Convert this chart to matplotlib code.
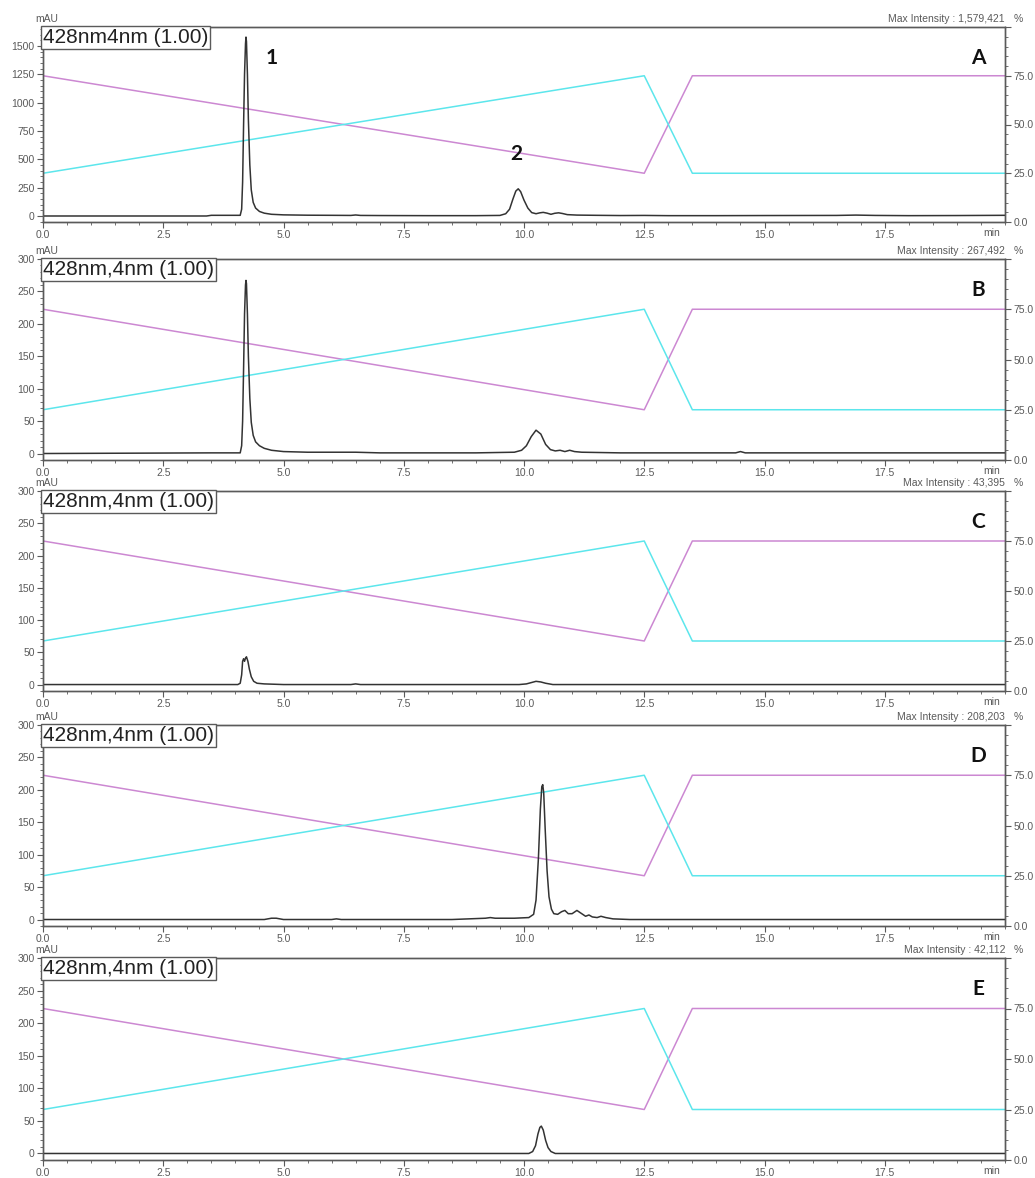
import matplotlib
matplotlib.use("Agg")
import matplotlib.pyplot as plt
from matplotlib.ticker import MultipleLocator, AutoMinorLocator, FormatStrFormatter

plt.rcParams['font.family'] = ['Liberation Sans', 'DejaVu Sans']

# ---------------- data ----------------
panel_letters = ["A", "B", "C", "D", "E"]
channel_labels = ["428nm4nm (1.00)", "428nm,4nm (1.00)", "428nm,4nm (1.00)",
                  "428nm,4nm (1.00)", "428nm,4nm (1.00)"]
max_intensity = ["1,579,421", "267,492", "43,395", "208,203", "42,112"]
y_limits = [(-53, 1668), (-10, 300), (-10, 300), (-10, 300), (-10, 300)]
y_major = [250, 50, 50, 50, 50]

# gradient program (%)
grad_t = [0.0, 12.5, 13.5, 20.0]
pump_B = [25.0, 75.0, 25.0, 25.0]   # cyan
pump_A = [75.0, 25.0, 75.0, 75.0]   # magenta

# chromatograms (time min, mAU)
trace_A_t = [0.0, 3.40, 3.50, 4.10, 4.13, 4.15, 4.17, 4.19, 4.21, 4.22, 4.23, 4.25, 4.27,
             4.30, 4.33, 4.37, 4.42, 4.50, 4.60, 4.75, 5.00, 5.50, 6.00, 6.40, 6.50, 6.60,
             7.00, 8.00, 9.00, 9.50, 9.62, 9.70, 9.77, 9.83, 9.88, 9.93, 10.00, 10.08,
             10.16, 10.25, 10.33, 10.40, 10.48, 10.56, 10.64, 10.72, 10.80, 10.90, 11.10,
             11.50, 12.00, 12.50, 13.00, 14.00, 15.00, 16.50, 16.90, 17.30, 18.00, 19.00, 20.0]
trace_A_y = [0, 0, 6, 6, 60, 300, 800, 1250, 1520, 1579, 1540, 1250, 850,
             450, 230, 120, 70, 40, 25, 15, 10, 7, 6, 5, 9, 5,
             4, 3, 3, 5, 20, 60, 150, 220, 240, 215, 140, 70,
             30, 20, 28, 32, 25, 15, 24, 28, 22, 12, 8,
             6, 4, 5, 3, 3, 4, 5, 8, 5, 3, 4, 6]

trace_B_t = [0.0, 3.50, 4.10, 4.13, 4.15, 4.17, 4.19, 4.21, 4.22, 4.23, 4.25, 4.27,
             4.30, 4.33, 4.37, 4.42, 4.50, 4.60, 4.75, 5.00, 5.50, 6.00, 6.50, 7.0,
             9.00, 9.80, 9.95, 10.05, 10.15, 10.25, 10.35, 10.45, 10.55, 10.65, 10.75,
             10.85, 10.95, 11.05, 11.20, 12.00, 13.00, 14.40, 14.50, 14.60, 16.0, 20.0]
trace_B_y = [0, 1, 1, 12, 50, 130, 215, 260, 267, 262, 215, 150,
             85, 48, 28, 18, 12, 8, 5, 3, 2, 2, 2, 1,
             1, 2, 5, 12, 26, 36, 30, 14, 6, 4, 5,
             3, 5, 3, 2, 1, 1, 1, 3, 1, 1, 1]

trace_C_t = [0.0, 4.05, 4.10, 4.13, 4.15, 4.17, 4.19, 4.21, 4.23, 4.26, 4.29,
             4.33, 4.38, 4.45, 4.60, 5.00, 6.40, 6.50, 6.60, 9.90, 10.05, 10.15,
             10.25, 10.35, 10.45, 10.60, 12.0, 20.0]
trace_C_y = [0, 0, 2, 15, 36, 40, 36, 41, 43, 36, 24,
             12, 5, 2, 1, 0, 0, 1, 0, 0, 1, 3,
             5, 4, 2, 0, 0, 0]

trace_D_t = [0.0, 4.60, 4.75, 4.85, 5.00, 6.00, 6.10, 6.20, 8.50, 9.20, 9.30, 9.40,
             9.80, 10.10, 10.20, 10.25, 10.30, 10.34, 10.37, 10.39, 10.41, 10.44,
             10.48, 10.52, 10.57, 10.62, 10.70, 10.78, 10.85, 10.92, 11.00, 11.10,
             11.20, 11.28, 11.35, 11.42, 11.52, 11.60, 11.70, 11.85, 12.20, 13.0, 20.0]
trace_D_y = [0, 0, 2, 2, 0, 0, 1, 0, 0, 2, 3, 2,
             2, 3, 8, 30, 95, 170, 205, 208, 195, 140,
             75, 35, 16, 9, 8, 12, 14, 9, 9, 14,
             9, 5, 7, 4, 3, 5, 3, 1, 0, 0, 0]

trace_E_t = [0.0, 10.10, 10.18, 10.24, 10.29, 10.33, 10.36, 10.40, 10.45, 10.50,
             10.56, 10.65, 11.0, 20.0]
trace_E_y = [0, 0, 3, 12, 30, 40, 42, 36, 20, 9,
             3, 0, 0, 0]

traces = [(trace_A_t, trace_A_y), (trace_B_t, trace_B_y), (trace_C_t, trace_C_y),
          (trace_D_t, trace_D_y), (trace_E_t, trace_E_y)]

peak_labels = ["1", "2"]
peak_label_t = [4.75, 9.83]
peak_label_y = [1390, 550]

# ---------------- layout ----------------
W, H = 1035, 1178
fig = plt.figure(figsize=(W / 100, H / 100), dpi=100)
fig.patch.set_facecolor("white")

left_px, right_px = 43, 1005
panel_px = [(27, 222), (259, 460), (491, 691), (725, 926), (958, 1160)]

gray = "#5a5a5a"
cyan = "#5ce6ec"
magenta = "#cc88d2"
tick_fs = 7.5

for i, (top, bot) in enumerate(panel_px):
    ax = fig.add_axes([left_px / W, 1 - bot / H, (right_px - left_px) / W, (bot - top) / H])
    ax2 = ax.twinx()
    ax.set_zorder(ax2.get_zorder() + 1)
    ax.patch.set_visible(False)

    ax2.plot(grad_t, pump_A, color=magenta, lw=1.1)
    ax2.plot(grad_t, pump_B, color=cyan, lw=1.1)
    ax2.set_ylim(0, 100)
    ax2.set_yticks([0, 25, 50, 75, 100])
    ax2.yaxis.set_major_formatter(FormatStrFormatter("%.1f"))
    ax2.set_yticklabels(["0.0", "25.0", "50.0", "75.0", ""])
    ax2.yaxis.set_minor_locator(MultipleLocator(5))

    t, y = traces[i]
    ax.plot(t, y, color="#333333", lw=1.1)
    ax.set_xlim(0, 20)
    ax.set_ylim(*y_limits[i])
    ax.xaxis.set_minor_locator(MultipleLocator(0.5))
    ax.set_xticks([0, 2.5, 5, 7.5, 10, 12.5, 15, 17.5])
    ax.set_xticklabels(["0.0", "2.5", "5.0", "7.5", "10.0", "12.5", "15.0", "17.5"])
    ax.yaxis.set_major_locator(MultipleLocator(y_major[i]))
    ax.yaxis.set_minor_locator(AutoMinorLocator(5))

    for a in (ax, ax2):
        for s in a.spines.values():
            s.set_color(gray)
            s.set_linewidth(1.0)
        a.tick_params(axis="both", which="major", direction="out", length=4,
                      width=0.8, colors=gray, labelsize=tick_fs, pad=2)
        a.tick_params(axis="both", which="minor", direction="out", length=2,
                      width=0.6, colors=gray)

    # channel label box
    ax.text(0.0, 0.995, channel_labels[i], transform=ax.transAxes, ha="left", va="top",
            fontsize=15, color="#222222",
            bbox=dict(boxstyle="square,pad=0.1", fc="white", ec=gray, lw=1.0), zorder=5)

    ax.annotate("mAU", xy=(0, 1), xycoords="axes fraction", xytext=(-8, 3),
                textcoords="offset pixels", ha="left", va="bottom",
                fontsize=tick_fs, color=gray)
    ax.annotate("Max Intensity : " + max_intensity[i], xy=(1, 1), xycoords="axes fraction",
                xytext=(0, 3), textcoords="offset pixels", ha="right", va="bottom",
                fontsize=tick_fs, color=gray)
    ax.annotate("%", xy=(1, 1), xycoords="axes fraction", xytext=(9, 3),
                textcoords="offset pixels", ha="left", va="bottom",
                fontsize=tick_fs, color=gray)
    ax.annotate("min", xy=(1, 0), xycoords="axes fraction", xytext=(-5, -6),
                textcoords="offset pixels", ha="right", va="top",
                fontsize=tick_fs, color=gray)
    ax.annotate(panel_letters[i], xy=(0.972, 1), xycoords="axes fraction",
                xytext=(0, -31), textcoords="offset pixels", ha="center", va="center",
                fontsize=15, fontweight="bold", family=["Lato", "DejaVu Sans"],
                color="#111111")

    if i == 0:
        for lab, lt, ly in zip(peak_labels, peak_label_t, peak_label_y):
            ax.text(lt, ly, lab, ha="center", va="center", fontsize=15,
                    fontweight="bold", family=["Lato", "DejaVu Sans"], color="#111111")

fig.savefig("out.png", dpi=100, facecolor="white")
